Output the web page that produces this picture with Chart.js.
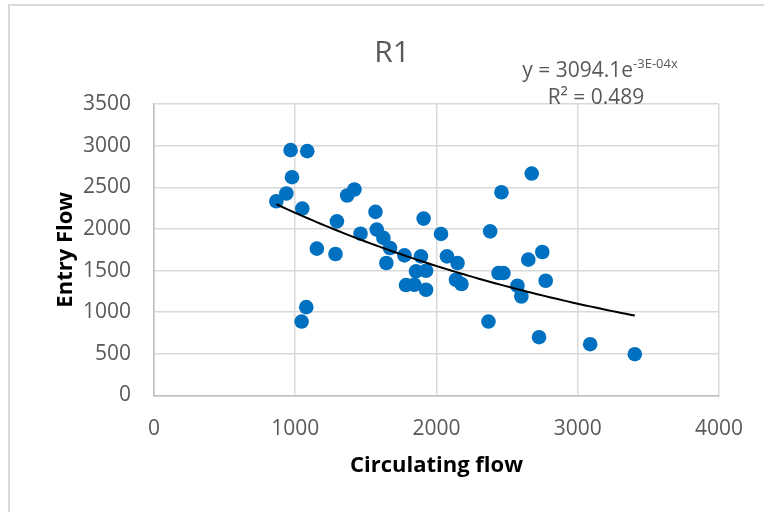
<!DOCTYPE html>
<html>
<head>
<meta charset="utf-8">
<title>R1</title>
<script src="https://cdn.jsdelivr.net/npm/chart.js@4/dist/chart.umd.min.js"></script>
<style>
  html, body { margin: 0; padding: 0; background: #ffffff; }
  #wrap { width: 764px; height: 512px; position: relative; }
</style>
</head>
<body>
<div id="wrap"><canvas id="chart" width="764" height="512"></canvas></div>
<script>
// Observed flows at roundabout approach R1 (veh/h)
const circulatingFlow = [
  967, 1085, 977, 937, 866, 1050, 1368, 1419, 1295, 1153,
  1285, 1078, 1045, 1568, 1462, 1577, 1624, 1671, 1645, 1773,
  1890, 1909, 1855, 1926, 1784, 1843, 1926, 2032, 2074, 2149,
  2138, 2177, 2380, 2460, 2674, 2439, 2474, 2573, 2601, 2650,
  2749, 2773, 2368, 2726, 3088, 3404
];
const entryFlow = [
  2946, 2934, 2621, 2425, 2332, 2244, 2401, 2473, 2091, 1763,
  1699, 1061, 888, 2205, 1943, 1992, 1892, 1771, 1591, 1682,
  1670, 2124, 1490, 1498, 1326, 1330, 1270, 1940, 1670, 1591,
  1390, 1338, 1971, 2440, 2665, 1470, 1470, 1318, 1189, 1631,
  1723, 1378, 888, 700, 616, 496
];

// Axis ranges and tick steps
const xTickValues = [0, 1000, 2000, 3000, 4000];
const yTickValues = [0, 500, 1000, 1500, 2000, 2500, 3000, 3500];

// Exponential trendline y = A·e^(k·x); the label prints k rounded to -3E-04
const trendA = 3094.1;
const trendK = -3.44e-4;
const equationText = 'y = 3094.1e';
const equationExponent = '-3E-04x';
const rSquaredText = 'R\u00B2 = 0.489';
const chartTitle = 'R1';

const points = circulatingFlow.map((x, i) => ({ x: x, y: entryFlow[i] }));

const xMinData = Math.min(...circulatingFlow);
const xMaxData = Math.max(...circulatingFlow);
const trendPoints = [];
const steps = 80;
for (let i = 0; i <= steps; i++) {
  const x = xMinData + (xMaxData - xMinData) * i / steps;
  trendPoints.push({ x: x, y: trendA * Math.exp(trendK * x) });
}

const FONT = '"Open Sans", "Liberation Sans", sans-serif';
const GREY_TEXT = '#595959';

// Frame, title and trendline label
const decorations = {
  id: 'decorations',
  afterDraw(chart) {
    const ctx = chart.ctx;
    ctx.save();
    ctx.strokeStyle = '#d9d9d9';
    ctx.lineWidth = 2;
    ctx.beginPath();
    ctx.moveTo(9, 512);
    ctx.lineTo(9, 5);
    ctx.lineTo(764, 5);
    ctx.stroke();

    ctx.fillStyle = GREY_TEXT;
    ctx.textBaseline = 'alphabetic';
    ctx.textAlign = 'center';
    ctx.font = '30px ' + FONT;
    ctx.fillText(chartTitle, 392, 62);

    // equation with superscript exponent
    const mainFont = '21px ' + FONT;
    const supFont = '13px ' + FONT;
    ctx.font = mainFont;
    const wMain = ctx.measureText(equationText).width;
    ctx.font = supFont;
    const wSup = ctx.measureText(equationExponent).width;
    const cx = 600;
    const left = cx - (wMain + wSup) / 2;
    ctx.textAlign = 'left';
    ctx.font = mainFont;
    ctx.fillText(equationText, left, 77);
    ctx.font = supFont;
    ctx.fillText(equationExponent, left + wMain, 68);

    ctx.textAlign = 'center';
    ctx.font = '21px ' + FONT;
    ctx.fillText(rSquaredText, 596, 104);
    ctx.restore();
  }
};

const plainNumber = v => String(v);

new Chart(document.getElementById('chart'), {
  type: 'scatter',
  data: {
    datasets: [
      {
        label: 'Trend',
        type: 'line',
        data: trendPoints,
        borderColor: '#000000',
        borderWidth: 2,
        pointRadius: 0,
        fill: false,
        tension: 0,
        order: 0
      },
      {
        label: 'R1',
        data: points,
        backgroundColor: '#0070C0',
        borderColor: '#0070C0',
        borderWidth: 0,
        pointRadius: 7.3,
        order: 1
      }
    ]
  },
  options: {
    responsive: false,
    animation: false,
    devicePixelRatio: 1,
    events: [],
    layout: { padding: { left: 52.8, top: 104, right: 43, bottom: 32.8 } },
    plugins: {
      legend: { display: false },
      tooltip: { enabled: false },
      title: { display: false }
    },
    scales: {
      x: {
        type: 'linear',
        min: xTickValues[0],
        max: xTickValues[xTickValues.length - 1],
        afterBuildTicks(scale) { scale.ticks = xTickValues.map(v => ({ value: v })); },
        ticks: { color: GREY_TEXT, font: { family: FONT, size: 21 }, padding: 21, callback: plainNumber },
        grid: { color: '#d9d9d9', lineWidth: 1.5, drawTicks: false },
        border: { color: '#bfbfbf', width: 1.5 },
        title: {
          display: true,
          text: 'Circulating flow',
          color: '#000000',
          font: { family: FONT, size: 22, weight: 'bold' },
          padding: 0
        },
        afterFit(scale) { scale.height = 83.7; }
      },
      y: {
        type: 'linear',
        min: yTickValues[0],
        max: yTickValues[yTickValues.length - 1],
        afterBuildTicks(scale) { scale.ticks = yTickValues.map(v => ({ value: v })); },
        ticks: { color: GREY_TEXT, font: { family: FONT, size: 21 }, padding: 23, callback: plainNumber },
        grid: { color: '#d9d9d9', lineWidth: 1.5, drawTicks: false },
        border: { color: '#bfbfbf', width: 1.5 },
        title: {
          display: true,
          text: 'Entry Flow',
          color: '#000000',
          font: { family: FONT, size: 22, weight: 'bold' },
          padding: 0
        },
        afterFit(scale) { scale.width = 154 - 52.8; }
      }
    }
  },
  plugins: [decorations]
});
</script>
</body>
</html>
